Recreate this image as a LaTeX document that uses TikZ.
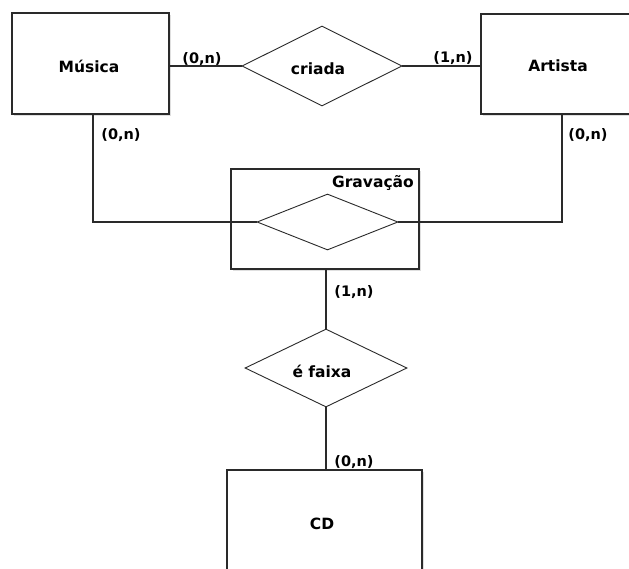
\documentclass[tikz,border=0pt]{standalone}
\usepackage{fontspec}
\setmainfont{DejaVu Sans}
\usetikzlibrary{shapes.geometric,shadows}
\definecolor{ln}{HTML}{2A2A2A}
\tikzset{
  entbox/.style={draw=ln, line width=1.4pt, fill=white, rectangle, inner sep=0pt,
    drop shadow={shadow xshift=1.5pt, shadow yshift=-1.5pt, opacity=0.25}},
  rel/.style={draw=ln, line width=0.9pt, fill=white, diamond, inner sep=0pt},
  conn/.style={draw=ln, line width=1.1pt},
  lbl/.style={font=\bfseries\fontsize{15.5}{18}\selectfont, inner sep=0pt, text=black},
  card/.style={font=\bfseries\fontsize{14.5}{17}\selectfont, inner sep=0pt, text=black}
}
\begin{document}
\begin{tikzpicture}[x=1pt,y=-1pt]
\useasboundingbox (0,0) rectangle (629,568);
\clip (0,0) rectangle (629,568);
\fill[white] (0,0) rectangle (629,568);
\coordinate (mcorner) at (93,222);
\coordinate (acorner) at (562,222);
% entities
\node[entbox, minimum width=157pt, minimum height=101pt] (musica) at (90.5,63.5) {};
\node[lbl] (musicat) at (89,66) {Música};
\node[entbox, minimum width=154pt, minimum height=100pt] (artista) at (558,64) {};
\node[lbl] (artistat) at (558,66) {Artista};
\node[entbox, minimum width=195pt, minimum height=106pt] (cd) at (324.5,523) {};
\node[lbl] (cdt) at (322,524) {CD};
% aggregation
\node[entbox, minimum width=188pt, minimum height=100pt] (grav) at (325,219) {};
\node[lbl, anchor=east] (gravt) at (414,183) {Gravação};
\node[rel, minimum width=141pt, minimum height=56pt] (gravrel) at (327.5,222) {};
% relationships
\node[rel, minimum width=160pt, minimum height=80pt] (criada) at (322,66) {};
\node[lbl] (criadat) at (318,69) {criada};
\node[rel, minimum width=162pt, minimum height=78pt] (faixa) at (326,368) {};
\node[lbl] (faixat) at (322,371) {é faixa};
% connectors
\draw[conn] (criada.west -| musica.east) -- (criada.west);
\draw[conn] (criada.east) -- (criada.east -| artista.west);
\draw[conn] (musica.south -| mcorner) -- (mcorner) -- (gravrel.west);
\draw[conn] (artista.south -| acorner) -- (acorner) -- (gravrel.east);
\draw[conn] (grav.south -| faixa.north) -- (faixa.north);
\draw[conn] (faixa.south) -- (faixa.south |- cd.north);
% cardinalities
\node[card] (c1) at (202,59) {(0,n)};
\node[card] (c2) at (453,58) {(1,n)};
\node[card] (c3) at (121,135) {(0,n)};
\node[card] (c4) at (588,135) {(0,n)};
\node[card] (c5) at (354,292) {(1,n)};
\node[card] (c6) at (354,462) {(0,n)};
\end{tikzpicture}
\end{document}
